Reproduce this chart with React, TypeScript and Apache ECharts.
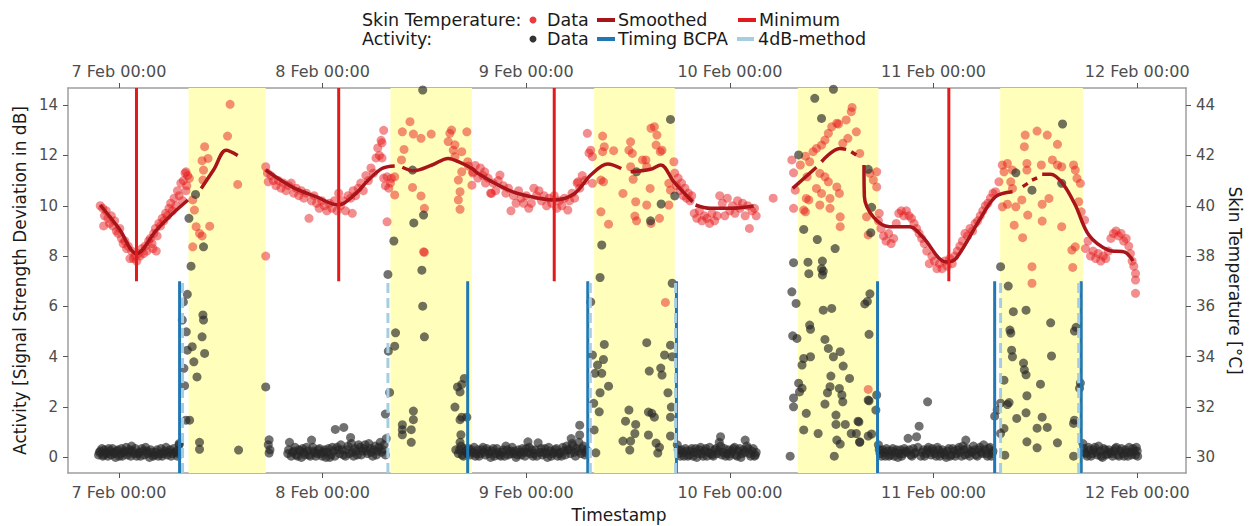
import React, { useEffect, useRef } from 'react';
import * as echarts from 'echarts';

// Hours are measured from 7 Feb 00:00.
const tickHours = [0, 24, 48, 72, 96, 120];
const tickLabels = ['7 Feb 00:00', '8 Feb 00:00', '9 Feb 00:00', '10 Feb 00:00', '11 Feb 00:00', '12 Feb 00:00'];
const activityTicks = [0, 2, 4, 6, 8, 10, 12, 14];
const temperatureTicks = [30, 32, 34, 36, 38, 40, 42, 44];

// Daytime (yellow) periods [start, end] in hours
const dayBands = [[8.2, 17.3], [32.0, 41.6], [56.0, 65.5], [80.0, 89.5], [103.85, 113.6]];

// Vertical markers
const minimumTimes = [2.07, 25.9, 51.3, 97.8];
const bcpaTimes = [7.15, 41.1, 55.25, 65.7, 89.4, 103.2, 113.4];
const fourDbTimes = [7.5, 31.7, 55.55, 65.6, 103.9, 113.1];

// Skin temperature samples [hour, °C]
const tempNight1 = [
  [-2.2, 40.0], [-1.9, 39.9], [-1.8, 39.2], [-1.7, 39.6], [-1.5, 39.8], [-1.3, 39.5], [-1.1, 39.3], [-0.9, 39.6], [-0.7, 39.2],
  [-0.5, 39.4], [-0.3, 39.0], [-0.1, 38.9], [0.1, 39.1], [0.3, 38.7], [0.5, 38.5], [0.7, 38.6], [0.9, 38.3], [1.1, 38.4],
  [1.3, 37.9], [1.5, 38.2], [1.7, 37.9], [1.9, 38.0], [2.1, 37.8], [2.3, 38.1], [2.5, 38.0], [2.7, 38.3], [2.9, 38.1],
  [3.1, 38.4], [3.3, 38.2], [3.5, 38.6], [3.7, 38.7], [3.9, 38.5], [4.0, 38.3], [4.1, 38.9], [4.3, 39.1], [4.4, 38.2],
  [4.5, 38.8], [4.7, 39.3], [4.9, 39.2], [5.1, 39.5], [5.3, 39.4], [5.5, 39.7], [5.7, 39.6], [5.9, 39.9], [6.1, 40.1],
  [6.3, 39.8], [6.5, 40.3], [6.7, 40.0], [6.9, 40.6], [7.1, 40.4], [7.3, 40.9], [7.5, 40.2], [7.6, 41.0], [7.8, 41.3],
  [7.9, 40.6], [8.0, 40.8], [8.1, 41.2]
];
const tempDay1 = [
  [7.9, 41.35], [8.3, 41.09], [8.7, 40.23], [8.9, 39.83], [9.1, 39.17], [9.5, 38.9], [9.8, 38.8], [8.7, 38.37], [10.7, 39.19],
  [10.1, 42.35], [9.8, 41.79], [10.5, 41.88], [9.97, 41.42], [9.9, 41.02], [12.8, 42.77], [13.1, 44.03], [14.0, 40.85], [17.3, 38.0]
];
const tempNight2 = [
  [17.3, 41.55], [17.5, 41.3], [17.6, 40.95], [17.9, 41.2], [18.2, 41.0], [18.5, 40.8], [18.8, 41.0], [19.1, 40.7], [19.4, 40.9],
  [19.7, 40.6], [20.0, 40.8], [20.3, 40.9], [20.6, 40.5], [20.9, 40.7], [21.2, 40.4], [21.5, 40.6], [21.8, 40.3], [22.1, 40.5],
  [22.4, 39.5], [22.7, 40.2], [23.0, 40.4], [23.3, 40.1], [23.6, 39.9], [23.9, 40.2], [24.2, 40.0], [24.5, 39.8], [24.8, 40.1],
  [25.1, 39.9], [25.4, 40.2], [25.7, 39.8], [25.9, 40.5], [26.1, 40.0], [26.4, 40.2], [26.7, 39.8], [27.0, 40.4], [27.3, 40.3],
  [27.5, 39.7], [27.6, 40.6], [27.9, 40.4], [28.2, 40.7], [28.5, 40.9], [28.8, 40.6], [29.1, 41.2], [29.4, 41.0], [29.7, 41.5],
  [30.0, 41.3], [30.3, 41.9], [30.5, 42.3], [30.7, 42.0], [30.9, 42.6], [31.0, 42.5], [31.2, 43.0], [31.0, 41.9], [31.2, 41.1],
  [31.4, 40.8], [31.6, 41.15], [31.6, 39.36], [31.8, 40.7], [32.0, 40.9]
];
const tempDay2 = [
  [34.3, 43.34], [33.4, 42.94], [34.7, 42.85], [35.6, 42.68], [36.8, 42.85], [33.6, 42.24], [33.3, 41.82], [32.5, 41.15],
  [32.1, 41.09], [34.6, 40.73], [32.5, 40.43], [35.6, 40.39], [36.0, 39.9], [35.9, 38.17], [39.0, 42.88], [39.2, 43.01],
  [38.8, 42.55], [39.6, 42.42], [40.4, 42.15], [41.0, 42.94], [39.4, 42.21], [39.6, 41.95], [40.0, 41.02], [40.4, 41.35],
  [41.6, 40.82], [41.7, 41.35], [40.2, 40.56], [40.0, 40.23], [40.2, 39.86], [41.1, 41.75], [41.2, 41.58], [36.0, 38.15]
];
const tempNight3 = [
  [41.7, 41.3], [42.0, 41.6], [42.3, 41.1], [42.6, 41.5], [42.9, 41.2], [43.1, 41.35], [43.2, 40.9], [43.5, 41.1], [43.8, 40.5],
  [43.9, 40.49], [44.1, 40.9], [44.4, 40.6], [44.7, 41.0], [44.9, 41.22], [45.3, 40.8], [45.6, 40.5], [45.9, 40.7], [46.2, 39.8],
  [46.5, 40.4], [46.8, 40.1], [47.1, 40.6], [47.4, 40.3], [47.7, 40.1], [48.0, 40.4], [48.3, 39.9], [48.6, 40.1], [48.9, 40.7],
  [49.2, 40.4], [49.5, 40.6], [49.8, 40.2], [50.1, 40.4], [50.4, 40.0], [50.7, 40.3], [51.0, 40.1], [51.3, 40.4], [51.6, 39.9],
  [51.9, 40.2], [52.2, 40.0], [52.5, 40.3], [52.9, 39.83], [53.1, 40.2], [53.4, 40.5], [53.7, 40.3], [54.0, 40.9], [54.1, 40.95],
  [54.3, 40.7], [54.6, 41.2], [54.9, 41.0], [55.2, 42.88], [55.4, 42.1], [55.6, 42.21], [55.8, 41.95], [55.8, 40.89]
];
const tempDay3 = [
  [57.0, 42.77], [57.2, 42.35], [57.0, 42.15], [58.3, 42.19], [56.8, 41.02], [57.1, 40.95], [56.8, 39.76], [57.7, 39.27],
  [59.4, 40.49], [60.3, 42.54], [60.1, 42.21], [60.5, 42.08], [60.3, 41.55], [60.6, 41.05], [60.9, 40.16], [60.8, 39.59],
  [61.0, 39.4], [61.7, 41.82], [62.1, 41.82], [62.2, 41.55], [62.6, 40.69], [62.2, 40.03], [62.7, 39.3], [63.7, 39.5],
  [62.7, 43.08], [63.1, 43.14], [63.4, 42.81], [63.3, 42.41], [63.8, 42.15], [64.0, 42.21], [64.8, 40.03], [65.4, 41.75],
  [64.8, 40.89], [65.0, 40.62], [64.4, 36.16]
];
const tempNight4 = [
  [65.5, 41.3], [65.7, 40.8], [65.9, 41.1], [66.1, 40.6], [66.3, 40.9], [66.5, 40.4], [66.7, 40.7], [66.9, 40.3], [67.1, 40.5],
  [67.3, 40.2], [67.5, 40.4], [67.8, 39.7], [68.1, 39.5], [68.4, 39.8], [68.7, 39.4], [69.0, 39.6], [69.3, 39.5], [69.6, 39.3],
  [69.9, 39.7], [70.2, 39.4], [70.5, 39.6], [70.8, 40.4], [71.1, 40.1], [71.4, 39.6], [71.7, 40.3], [72.0, 39.8], [72.3, 40.0],
  [72.6, 39.7], [72.9, 40.2], [73.2, 39.9], [73.5, 40.1], [73.8, 39.6], [74.1, 40.0], [74.3, 39.1], [74.6, 39.8], [74.9, 39.9],
  [75.1, 39.6], [77.1, 40.3]
];
const tempDay4 = [
  [79.3, 41.82], [79.5, 41.31], [79.7, 40.62], [79.5, 39.9], [80.3, 41.62], [80.9, 41.97], [81.1, 41.15], [81.0, 40.29],
  [80.7, 39.83], [81.8, 42.15], [81.4, 41.75], [82.2, 42.28], [82.8, 42.41], [83.2, 42.61], [83.6, 42.88], [84.0, 43.14],
  [84.6, 43.28], [84.8, 43.25], [85.7, 43.41], [86.4, 43.91], [86.3, 43.74], [86.9, 42.94], [85.9, 42.68], [85.3, 42.48],
  [82.6, 41.29], [83.2, 41.15], [83.6, 40.95], [82.2, 40.69], [82.8, 40.49], [84.6, 40.75], [84.9, 40.49], [83.8, 40.29],
  [85.0, 39.17], [85.0, 39.56], [82.6, 40.03], [81.3, 40.23], [80.9, 39.76], [83.8, 39.9], [87.3, 42.08], [88.5, 41.29],
  [89.3, 41.35], [88.9, 41.02], [89.3, 40.75], [88.1, 39.56], [88.3, 38.84], [89.6, 39.7], [88.3, 32.7]
];
const tempNight5 = [
  [89.5, 39.4], [89.8, 39.1], [90.1, 38.8], [90.4, 38.6], [90.7, 38.9], [91.0, 38.5], [91.3, 38.7], [91.6, 39.3], [91.9, 39.7],
  [92.2, 39.8], [92.5, 39.6], [92.8, 39.8], [93.1, 39.6], [93.4, 39.5], [93.7, 39.3], [94.0, 39.1], [94.3, 38.9], [94.6, 38.7],
  [94.9, 38.5], [95.2, 38.2], [95.5, 37.7], [95.8, 38.0], [96.1, 37.8], [96.4, 37.5], [96.7, 37.7], [97.0, 37.5], [97.3, 37.8],
  [97.6, 37.6], [97.9, 37.9], [98.2, 37.7], [98.5, 38.0], [98.8, 38.2], [99.1, 38.4], [99.4, 38.6], [99.7, 38.9], [100.0, 38.8],
  [100.3, 39.1], [100.6, 39.0], [100.9, 39.3], [101.2, 39.4], [101.5, 39.6], [101.8, 39.8], [102.1, 40.0], [102.4, 40.1],
  [102.7, 40.3], [103.0, 40.5]
];
const tempDay5 = [
  [103.3, 40.56], [103.7, 40.95], [104.1, 41.62], [104.3, 41.35], [104.7, 41.68], [105.3, 41.42], [105.1, 40.95], [105.3, 40.69],
  [104.1, 39.96], [104.7, 40.06], [105.7, 39.96], [105.5, 39.23], [106.5, 38.73], [106.7, 42.35], [106.8, 42.81], [107.0, 41.68],
  [107.0, 41.42], [106.4, 40.23], [107.1, 39.63], [108.2, 42.97], [109.4, 42.81], [110.6, 42.44], [108.7, 41.62], [110.0, 41.82],
  [110.6, 41.62], [111.1, 41.55], [108.8, 40.06], [109.6, 40.29], [108.8, 39.39], [111.1, 39.17], [112.5, 41.62], [112.7, 41.42],
  [112.9, 41.09], [113.3, 40.89], [113.1, 40.16], [113.4, 39.76], [113.8, 39.43], [112.7, 38.37], [112.3, 38.24],
  [107.6, 37.58], [107.6, 36.92], [112.4, 37.55]
];
const tempNight6 = [
  [113.9, 38.3], [114.2, 38.6], [114.5, 38.0], [114.8, 38.2], [115.1, 37.9], [115.4, 38.1], [115.7, 37.8], [116.0, 38.0],
  [116.3, 37.9], [116.6, 38.2], [116.9, 38.7], [117.2, 38.9], [117.5, 39.0], [117.8, 38.8], [118.1, 38.9], [118.4, 38.6],
  [118.7, 38.7], [119.0, 38.4], [119.2, 38.1], [119.4, 37.8], [119.6, 37.6], [119.8, 37.31], [119.8, 37.05], [119.8, 36.52]
];

// Smoothed skin temperature, one array per unbroken stretch
const smoothedSegments = [
  [[-2.2, 40.03], [0.0, 39.1], [2.07, 38.1], [4.42, 39.03], [6.37, 39.7], [8.13, 40.23]],
  [[9.7, 40.69], [11.2, 41.45], [12.63, 42.21], [14.0, 42.0]],
  [[17.3, 41.42], [20.4, 40.75], [23.2, 40.36], [25.9, 40.03], [27.8, 40.45], [29.4, 41.02], [31.0, 41.48], [32.5, 41.58]],
  [[33.4, 41.53], [34.7, 41.39], [36.9, 41.62], [38.8, 41.88], [40.0, 41.75], [41.6, 41.48], [42.3, 41.29], [44.7, 40.82],
    [47.0, 40.49], [51.3, 40.23], [53.7, 40.49], [55.6, 41.22], [57.6, 41.66], [59.2, 41.48]],
  [[60.3, 41.35], [62.65, 41.45], [63.85, 41.62], [65.4, 40.95], [67.6, 40.16]],
  [[67.95, 40.03], [69.7, 39.9], [72.1, 39.9], [74.8, 39.99]],
  [[79.4, 40.69], [82.2, 41.53]],
  [[82.8, 41.75], [84.96, 42.28], [85.7, 42.24]],
  [[86.3, 42.15], [86.9, 42.02]],
  [[87.8, 41.62], [87.85, 40.36], [88.9, 39.56], [90.8, 39.17], [93.2, 39.17], [94.7, 38.77], [97.5, 37.77], [98.65, 37.91],
    [101.4, 39.43], [103.3, 40.36], [105.3, 40.56]],
  [[106.5, 40.76], [107.1, 40.89]],
  [[107.6, 41.02], [108.2, 41.11]],
  [[108.8, 41.25], [109.8, 41.25], [111.2, 40.89], [112.7, 40.03], [114.3, 38.84], [116.6, 38.24], [118.6, 38.15], [119.5, 37.8]]
];

// Activity samples [hour, dB], resting periods
const activityRest = [
  [-2.4, 0.1], [-2.2, 0.25], [-1.9, 0.05], [-1.7, 0.3], [-1.4, 0.15], [-1.2, 0.35], [-0.9, 0.1], [-0.6, 0.2], [-0.4, 0.0],
  [-0.1, 0.3], [0.2, 0.15], [0.4, 0.05], [0.7, 0.25], [1.0, 0.1], [1.3, 0.3], [1.5, 0.45], [1.8, 0.15], [2.1, 0.05], [2.4, 0.2],
  [2.7, 0.35], [3.0, 0.1], [3.3, 0.25], [3.6, 0.0], [3.9, 0.2], [4.2, 0.1], [4.5, 0.3], [4.8, 0.15], [5.1, 0.05], [5.4, 0.25],
  [5.7, 0.1], [6.0, 0.3], [6.3, 0.15], [6.6, 0.2], [6.9, 0.05], [7.1, 0.5],
  [9.5, 0.6], [9.5, 0.32], [14.1, 0.29], [17.7, 0.7], [17.7, 0.17], [17.6, 0.5], [17.8, 0.3],
  [19.9, 0.15], [20.1, 0.6], [20.3, 0.05], [20.6, 0.25], [20.9, 0.1], [21.2, 0.3], [21.5, 0.0], [21.8, 0.2], [22.1, 0.4],
  [22.4, 0.1], [22.7, 0.69], [22.9, 0.25], [23.2, 0.05], [23.5, 0.3], [23.8, 0.15], [24.1, 0.2], [24.4, 0.0], [24.7, 0.35],
  [25.0, 0.1], [25.3, 0.25], [25.5, 1.11], [25.7, 0.4], [26.0, 0.15], [26.3, 0.3], [26.5, 1.19], [26.7, 0.05], [27.0, 0.45],
  [27.3, 0.79], [27.5, 0.2], [27.8, 0.35], [28.1, 0.1], [28.4, 0.4], [28.7, 0.25], [29.0, 0.5], [29.3, 0.15], [29.6, 0.35],
  [29.9, 0.05], [30.2, 0.45], [30.5, 0.25], [30.8, 0.6], [31.1, 0.3], [31.4, 0.1], [31.5, 0.75],
  [39.7, 0.3], [40.0, 0.15], [40.3, 0.45], [40.6, 0.05], [40.9, 0.25], [41.2, 0.35], [41.4, 0.1],
  [41.7, 0.2], [42.0, 0.05], [42.3, 0.3], [42.6, 0.15], [42.9, 0.4], [43.2, 0.1], [43.5, 0.25], [43.8, 0.0], [44.1, 0.35],
  [44.4, 0.15], [44.7, 0.2], [45.0, 0.05], [45.3, 0.3], [45.6, 0.45], [45.9, 0.1], [46.2, 0.25], [46.5, 0.15], [46.8, 0.0],
  [47.1, 0.3], [47.4, 0.1], [47.7, 0.2], [48.0, 0.35], [48.2, 0.62], [48.5, 0.15], [48.8, 0.05], [49.1, 0.3], [49.4, 0.58],
  [49.6, 0.2], [49.9, 0.1], [50.2, 0.35], [50.5, 0.0], [50.8, 0.25], [51.1, 0.15], [51.4, 0.3], [51.7, 0.05], [52.0, 0.2],
  [52.3, 0.4], [52.6, 0.1], [52.9, 0.3], [53.2, 0.15], [53.3, 0.75], [53.5, 0.45], [53.8, 0.05], [54.1, 0.25], [54.3, 1.28],
  [54.3, 0.89], [54.6, 0.35], [54.9, 0.1], [55.1, 0.3],
  [65.8, 0.5], [66.0, 0.15], [66.3, 0.3], [66.6, 0.05], [66.9, 0.25], [67.2, 0.1], [67.5, 0.35], [67.8, 0.2], [68.1, 0.0],
  [68.4, 0.3], [68.7, 0.15], [69.0, 0.25], [69.3, 0.05], [69.6, 0.4], [69.9, 0.1], [70.2, 0.3], [70.5, 0.15], [70.9, 0.82],
  [70.9, 0.45], [71.2, 0.2], [71.5, 0.05], [71.8, 0.3], [72.1, 0.15], [72.4, 0.35], [72.7, 0.1], [73.0, 0.25], [73.3, 0.0],
  [73.6, 0.3], [73.8, 0.69], [74.0, 0.45], [74.3, 0.15], [74.6, 0.25], [74.9, 0.05], [75.1, 0.2],
  [89.5, 0.5], [89.7, 0.15], [90.0, 0.3], [90.3, 0.05], [90.6, 0.25], [90.9, 0.1], [91.2, 0.35], [91.5, 0.2], [91.8, 0.0],
  [92.1, 0.3], [92.4, 0.15], [92.7, 0.25], [93.0, 0.76], [93.3, 0.1], [93.6, 0.35], [93.9, 0.2], [94.0, 0.82], [94.3, 1.24],
  [94.5, 0.05], [94.8, 0.3], [95.1, 0.15], [95.3, 2.21], [95.4, 0.4], [95.7, 0.1], [96.0, 0.25], [96.3, 0.05], [96.6, 0.3],
  [96.9, 0.15], [97.2, 0.2], [97.5, 0.0], [97.8, 0.35], [98.1, 0.1], [98.4, 0.25], [98.7, 0.15], [99.0, 0.4], [99.3, 0.05],
  [99.6, 0.3], [99.8, 0.69], [100.1, 0.15], [100.4, 0.25], [100.7, 0.45], [101.0, 0.1], [101.3, 0.3], [101.6, 0.2],
  [101.9, 0.5], [102.2, 0.15], [102.5, 0.35], [102.8, 0.05], [103.0, 0.25],
  [113.6, 0.55], [113.8, 0.2], [114.1, 0.05], [114.4, 0.3], [114.7, 0.15], [115.0, 0.4], [115.3, 0.1], [115.6, 0.25],
  [115.9, 0.0], [116.2, 0.3], [116.5, 0.15], [116.8, 0.2], [117.1, 0.05], [117.4, 0.35], [117.7, 0.1], [118.0, 0.25],
  [118.3, 0.15], [118.6, 0.3], [118.9, 0.05], [119.2, 0.2], [119.5, 0.35], [119.8, 0.1], [120.0, 0.25]
];

// Further resting-period activity samples, between the ones above
const activityRestExtra = [
  [-2.3, 0.2], [-2.0, 0.35], [-1.8, 0.1], [-1.55, 0.2], [-1.3, 0.05], [-1.05, 0.25], [-0.75, 0.35], [-0.5, 0.15], [-0.25, 0.25],
  [0.05, 0.05], [0.3, 0.35], [0.55, 0.2], [0.85, 0.4], [1.15, 0.2], [1.4, 0.05], [1.65, 0.25], [1.95, 0.35], [2.25, 0.15],
  [2.55, 0.05], [2.85, 0.25], [3.15, 0.4], [3.45, 0.15], [3.75, 0.3], [4.05, 0.05], [4.35, 0.2], [4.65, 0.05], [4.95, 0.35],
  [5.25, 0.15], [5.55, 0.4], [5.85, 0.2], [6.15, 0.05], [6.45, 0.35], [6.75, 0.25], [7.0, 0.15],
  [20.0, 0.3], [20.45, 0.2], [20.75, 0.4], [21.05, 0.05], [21.35, 0.25], [21.65, 0.35], [21.95, 0.1], [22.25, 0.25],
  [22.55, 0.05], [22.85, 0.4], [23.05, 0.2], [23.35, 0.15], [23.65, 0.35], [23.95, 0.05], [24.25, 0.3], [24.55, 0.2],
  [24.85, 0.0], [25.15, 0.4], [25.45, 0.05], [25.85, 0.3], [26.15, 0.5], [26.45, 0.1], [26.85, 0.3], [27.15, 0.15],
  [27.4, 0.55], [27.65, 0.05], [27.95, 0.25], [28.25, 0.5], [28.55, 0.1], [28.85, 0.35], [29.15, 0.25], [29.45, 0.55],
  [29.75, 0.2], [30.05, 0.3], [30.35, 0.1], [30.65, 0.4], [30.95, 0.2], [31.25, 0.5],
  [40.15, 0.3], [40.45, 0.1], [40.75, 0.35], [41.05, 0.15], [41.55, 0.3], [41.85, 0.4], [42.15, 0.15], [42.45, 0.05],
  [42.75, 0.3], [43.05, 0.2], [43.35, 0.35], [43.65, 0.15], [43.95, 0.25], [44.25, 0.05], [44.55, 0.35], [44.85, 0.1],
  [45.15, 0.2], [45.45, 0.05], [45.75, 0.3], [46.05, 0.15], [46.35, 0.4], [46.65, 0.25], [46.95, 0.1], [47.25, 0.2],
  [47.55, 0.35], [47.85, 0.05], [48.15, 0.2], [48.35, 0.4], [48.65, 0.3], [48.95, 0.15], [49.25, 0.05], [49.75, 0.35],
  [50.05, 0.2], [50.35, 0.15], [50.65, 0.4], [50.95, 0.05], [51.25, 0.2], [51.55, 0.35], [51.85, 0.15], [52.15, 0.05],
  [52.45, 0.25], [52.75, 0.45], [53.05, 0.3], [53.4, 0.55], [53.65, 0.2], [53.95, 0.35], [54.2, 0.6], [54.45, 0.15],
  [54.75, 0.45], [55.0, 0.2],
  [65.9, 0.3], [66.15, 0.05], [66.45, 0.2], [66.75, 0.35], [67.05, 0.05], [67.35, 0.25], [67.65, 0.05], [67.95, 0.35],
  [68.25, 0.15], [68.55, 0.4], [68.85, 0.05], [69.15, 0.35], [69.45, 0.2], [69.75, 0.15], [70.05, 0.05], [70.35, 0.35],
  [70.65, 0.25], [70.75, 0.6], [71.05, 0.1], [71.35, 0.35], [71.65, 0.15], [71.95, 0.05], [72.25, 0.25], [72.55, 0.4],
  [72.85, 0.05], [73.15, 0.35], [73.45, 0.15], [73.75, 0.2], [74.15, 0.35], [74.45, 0.05], [74.75, 0.35], [75.0, 0.1],
  [89.6, 0.3], [89.85, 0.05], [90.15, 0.2], [90.45, 0.35], [90.75, 0.05], [91.05, 0.25], [91.35, 0.05], [91.65, 0.3],
  [91.95, 0.15], [92.25, 0.05], [92.55, 0.35], [92.85, 0.2], [93.15, 0.3], [93.45, 0.05], [93.75, 0.15], [94.15, 0.4],
  [94.65, 0.2], [94.95, 0.05], [95.25, 0.3], [95.55, 0.2], [95.85, 0.35], [96.15, 0.15], [96.45, 0.4], [96.75, 0.05],
  [97.05, 0.3], [97.35, 0.1], [97.65, 0.25], [97.95, 0.05], [98.25, 0.35], [98.55, 0.05], [98.85, 0.3], [99.15, 0.2],
  [99.45, 0.45], [99.7, 0.1], [99.95, 0.35], [100.25, 0.05], [100.55, 0.2], [100.85, 0.3], [101.15, 0.05], [101.45, 0.4],
  [101.75, 0.15], [102.05, 0.3], [102.35, 0.05], [102.65, 0.4], [102.9, 0.15],
  [113.7, 0.35], [113.95, 0.15], [114.25, 0.4], [114.55, 0.05], [114.85, 0.3], [115.15, 0.2], [115.45, 0.45], [115.75, 0.05],
  [116.05, 0.35], [116.35, 0.1], [116.65, 0.3], [116.95, 0.15], [117.25, 0.25], [117.55, 0.4], [117.85, 0.05], [118.15, 0.35],
  [118.45, 0.05], [118.75, 0.2], [119.05, 0.4], [119.35, 0.1], [119.65, 0.25], [119.9, 0.4], [120.05, 0.05]
];

// Activity samples [hour, dB], active periods
const activityActive = [
  [8.06, 6.48], [7.6, 6.18], [7.47, 5.46], [7.94, 4.99], [8.06, 4.26], [8.64, 4.4], [8.83, 3.8], [7.66, 3.54], [7.74, 2.85],
  [9.2, 3.2], [8.5, 7.6], [9.97, 8.37], [9.9, 5.66], [9.97, 5.46], [9.8, 4.79], [10.1, 4.13], [8.33, 1.48], [7.9, 1.48],
  [17.3, 2.8], [7.1, 0.55], [9.03, 10.45], [8.25, 9.5],
  [31.7, 7.27], [32.6, 4.95], [32.5, 4.42], [31.75, 4.22], [31.9, 2.58], [31.4, 1.72], [33.4, 1.3], [33.4, 1.1], [33.4, 0.9],
  [34.7, 1.84], [34.7, 1.5], [34.45, 1.1], [34.45, 0.6], [35.7, 7.44], [35.8, 6.01], [36.0, 4.79], [39.9, 2.8], [40.2, 2.6],
  [40.4, 2.9], [39.6, 2.0], [40.2, 1.5], [40.4, 1.6], [40.3, 0.9], [40.2, 0.6], [40.7, 3.14], [41.0, 1.6], [34.6, 11.42],
  [34.75, 9.32], [35.9, 9.63], [32.4, 8.6], [35.8, 14.6],
  [56.9, 8.44], [56.7, 7.15], [55.6, 6.18], [55.8, 4.07], [57.2, 4.49], [57.1, 3.89], [56.4, 3.67], [56.9, 3.34], [56.1, 3.34],
  [57.7, 2.83], [56.7, 2.57], [56.6, 1.81], [55.95, 2.15], [56.0, 1.09], [56.2, 0.18], [60.1, 1.88], [59.7, 1.44], [60.9, 1.31],
  [60.8, 0.95], [59.4, 0.65], [60.3, 0.65], [60.2, 0.29], [62.2, 4.56], [62.5, 3.43], [63.85, 3.55], [64.0, 3.27], [64.7, 2.57],
  [62.4, 1.8], [62.8, 1.75], [63.1, 1.6], [62.4, 0.89], [63.3, 0.57], [63.5, 0.17], [63.7, 0.4], [65.0, 4.46], [64.3, 4.07],
  [65.2, 4.0], [65.2, 6.92], [65.0, 1.6], [65.1, 2.0], [65.0, 0.85], [65.0, 13.43], [61.0, 11.35], [65.5, 10.39], [63.9, 10.07],
  [62.65, 9.4],
  [79.5, 7.74], [79.3, 6.58], [79.8, 6.12], [79.4, 4.83], [79.9, 4.73], [80.1, 2.95], [80.5, 2.75], [80.2, 2.6], [79.5, 2.36],
  [79.5, 2.01], [79.1, 0.05], [81.2, 7.76], [81.3, 7.3], [82.9, 7.8], [82.8, 7.5], [83.0, 7.4], [81.4, 5.26], [81.5, 5.09],
  [83.0, 5.85], [84.0, 5.92], [83.2, 4.69], [83.6, 4.33], [85.0, 4.2], [84.2, 4.0], [85.35, 3.63], [86.1, 3.14], [83.9, 3.23],
  [83.8, 2.81], [83.5, 2.57], [84.9, 2.74], [85.2, 2.48], [85.3, 2.21], [80.7, 3.93], [81.5, 4.0], [80.5, 3.67], [81.0, 1.75],
  [80.7, 1.09], [82.4, 0.95], [83.2, 2.12], [84.5, 1.68], [84.5, 1.31], [85.6, 1.31], [84.6, 0.69], [85.0, 0.53], [84.3, 0.05],
  [86.3, 0.95], [86.9, 0.95], [87.3, 0.6], [87.1, 1.44], [87.9, 6.1], [88.2, 6.2], [88.5, 6.5], [88.4, 4.89], [88.3, 2.28],
  [88.3, 0.85], [89.3, 2.48], [89.2, 1.88], [87.2, 1.41], [87.3, 0.62], [88.7, 0.93], [88.4, 2.25], [80.1, 12.02],
  [82.0, 14.27], [84.2, 14.63], [82.8, 13.47], [88.3, 11.45], [88.7, 9.94], [88.6, 8.93], [80.7, 9.06], [82.3, 8.66],
  [84.4, 8.3], [82.9, 7.25],
  [103.9, 7.58], [104.8, 6.81], [105.4, 5.79], [106.9, 5.85], [105.0, 5.06], [105.1, 4.94], [105.2, 4.26], [105.3, 4.0],
  [106.6, 3.75], [106.7, 3.48], [106.9, 3.28], [104.3, 3.07], [104.9, 2.18], [104.7, 2.1], [103.9, 2.16], [103.5, 1.88],
  [107.0, 2.45], [105.8, 1.55], [106.9, 1.77], [104.3, 1.15], [103.9, 0.95], [107.0, 0.62], [104.4, 0.09], [108.2, 0.38],
  [108.2, 1.16], [108.8, 1.6], [109.4, 1.19], [108.6, 2.91], [109.8, 5.35], [109.9, 4.03], [110.6, 0.58], [112.6, 5.02],
  [112.8, 5.17], [113.3, 2.96], [113.2, 2.75], [112.5, 1.35], [112.6, 1.48], [112.5, 0.05], [103.2, 1.64], [111.2, 13.25],
  [105.7, 11.31], [107.6, 10.62], [111.1, 10.89]
];

const X_MIN = -6.0;
const X_MAX = 125.75;
const Y_MIN = -0.62;
const Y_MAX = 14.68;
const TEMP_OFFSET = 30;

const FONT = 'DejaVu Sans';
const TICK_COLOR = '#4d4d4d';
const FRAME_COLOR = '#9e9e9e';
const TEMP_POINT = 'rgba(228,26,28,0.62)';
const ACT_POINT = 'rgba(38,38,38,0.82)';
const SMOOTH_COLOR = '#a8141a';
const MIN_COLOR = '#e31a1c';
const BCPA_COLOR = '#1f78b4';
const FOURDB_COLOR = '#a6cee3';

function xLabel(v: number) {
  const i = tickHours.indexOf(v);
  return i >= 0 ? tickLabels[i] : '';
}

function buildOption() {
  const xAxisBase = {
    type: 'value',
    min: X_MIN,
    max: X_MAX,
    splitLine: { show: false },
    axisLine: { show: true, onZero: false, lineStyle: { color: FRAME_COLOR, width: 1.5 } },
    axisTick: { show: true, length: 5, customValues: tickHours, lineStyle: { color: '#555', width: 1 } },
    axisLabel: { customValues: tickHours, formatter: xLabel, color: TICK_COLOR, fontFamily: FONT, fontSize: 16 }
  };
  const yAxisBase = {
    type: 'value',
    splitLine: { show: false },
    axisLine: { show: true, onZero: false, lineStyle: { color: FRAME_COLOR, width: 1.5 } },
    axisTick: { show: true, length: 5, lineStyle: { color: '#555', width: 1 } }
  };

  const series: any[] = [];

  // daytime shading
  series.push({
    type: 'scatter',
    data: [],
    silent: true,
    z: 0,
    markArea: {
      silent: true,
      itemStyle: { color: '#ffffbb' },
      data: dayBands.map(([a, b]) => [{ xAxis: a }, { xAxis: b }])
    }
  });

  const allTemps = [
    ...tempNight1, ...tempDay1, ...tempNight2, ...tempDay2, ...tempNight3, ...tempDay3,
    ...tempNight4, ...tempDay4, ...tempNight5, ...tempDay5, ...tempNight6
  ];
  series.push({
    name: 'Skin temperature',
    type: 'scatter',
    yAxisIndex: 1,
    symbolSize: 9,
    itemStyle: { color: TEMP_POINT },
    data: allTemps,
    z: 2
  });
  series.push({
    name: 'Activity',
    type: 'scatter',
    yAxisIndex: 0,
    symbolSize: 9,
    itemStyle: { color: ACT_POINT },
    data: [...activityRest, ...activityRestExtra, ...activityActive],
    z: 3
  });
  smoothedSegments.forEach((seg) => {
    series.push({
      type: 'line',
      yAxisIndex: 1,
      data: seg,
      smooth: 0.35,
      showSymbol: false,
      lineStyle: { color: SMOOTH_COLOR, width: 3.5 },
      z: 4
    });
  });
  minimumTimes.forEach((h) => {
    series.push({
      type: 'line', yAxisIndex: 0, data: [[h, 7], [h, Y_MAX]], showSymbol: false,
      lineStyle: { color: MIN_COLOR, width: 3 }, z: 5
    });
  });
  bcpaTimes.forEach((h) => {
    series.push({
      type: 'line', yAxisIndex: 0, data: [[h, Y_MIN], [h, 7]], showSymbol: false,
      lineStyle: { color: BCPA_COLOR, width: 3 }, z: 5
    });
  });
  fourDbTimes.forEach((h) => {
    series.push({
      type: 'line', yAxisIndex: 0, data: [[h, Y_MIN], [h, 7]], showSymbol: false,
      lineStyle: { color: FOURDB_COLOR, width: 3, type: [10, 5] }, z: 6
    });
  });

  const legendText = (x: number, y: number, text: string) => ({
    type: 'text', x, y,
    style: { text, font: `17.5px '${FONT}'`, fill: '#1a1a1a', verticalAlign: 'middle', textAlign: 'left' }
  });
  const legendLine = (x1: number, x2: number, y: number, color: string) => ({
    type: 'line', shape: { x1, y1: y, x2, y2: y }, style: { stroke: color, lineWidth: 4 }
  });

  return {
    animation: false,
    backgroundColor: '#ffffff',
    grid: { left: 68, right: 60, top: 88, bottom: 53, containLabel: false },
    xAxis: [
      { ...xAxisBase, position: 'bottom', axisLabel: { ...xAxisBase.axisLabel, margin: 11 } },
      { ...xAxisBase, position: 'top', axisLabel: { ...xAxisBase.axisLabel, margin: 9 } }
    ],
    yAxis: [
      {
        ...yAxisBase,
        position: 'left',
        min: Y_MIN,
        max: Y_MAX,
        axisTick: { ...yAxisBase.axisTick, customValues: activityTicks },
        axisLabel: { customValues: activityTicks, color: TICK_COLOR, fontFamily: FONT, fontSize: 15, margin: 10 },
        name: 'Activity [Signal Strength Deviation in dB]',
        nameLocation: 'middle',
        nameRotate: 90,
        nameGap: 40,
        nameTextStyle: { fontFamily: FONT, fontSize: 17, color: '#1a1a1a' }
      },
      {
        ...yAxisBase,
        position: 'right',
        min: Y_MIN + TEMP_OFFSET,
        max: Y_MAX + TEMP_OFFSET,
        axisTick: { ...yAxisBase.axisTick, customValues: temperatureTicks },
        axisLabel: { customValues: temperatureTicks, color: TICK_COLOR, fontFamily: FONT, fontSize: 15, margin: 10 },
        name: 'Skin Temperature [°C]',
        nameLocation: 'middle',
        nameRotate: -90,
        nameGap: 36,
        nameTextStyle: { fontFamily: FONT, fontSize: 17, color: '#1a1a1a' }
      }
    ],
    graphic: [
      legendText(362, 20, 'Skin Temperature:'),
      legendText(362, 39, 'Activity:'),
      { type: 'circle', shape: { cx: 533, cy: 20, r: 3.5 }, style: { fill: 'rgba(228,26,28,0.85)' } },
      legendText(547, 20, 'Data'),
      legendLine(597, 615, 20, SMOOTH_COLOR),
      legendText(618, 20, 'Smoothed'),
      legendLine(738, 756, 20, MIN_COLOR),
      legendText(759, 20, 'Minimum'),
      { type: 'circle', shape: { cx: 533, cy: 39, r: 3.5 }, style: { fill: '#333333' } },
      legendText(547, 39, 'Data'),
      legendLine(597, 615, 39, BCPA_COLOR),
      legendText(618, 39, 'Timing BCPA'),
      legendLine(737, 754, 39, FOURDB_COLOR),
      legendText(758, 39, '4dB-method'),
      {
        type: 'text', x: 619, y: 515,
        style: { text: 'Timestamp', font: `17px '${FONT}'`, fill: '#1a1a1a', textAlign: 'center', verticalAlign: 'middle' }
      }
    ],
    series
  };
}

export default function App() {
  const ref = useRef<HTMLDivElement>(null);
  useEffect(() => {
    if (!ref.current) return;
    const chart = echarts.init(ref.current, null, { renderer: 'svg' });
    chart.setOption(buildOption() as any);
    return () => chart.dispose();
  }, []);
  return <div ref={ref} style={{ position: 'absolute', left: 0, top: 0, width: 1251, height: 526 }} />;
}
